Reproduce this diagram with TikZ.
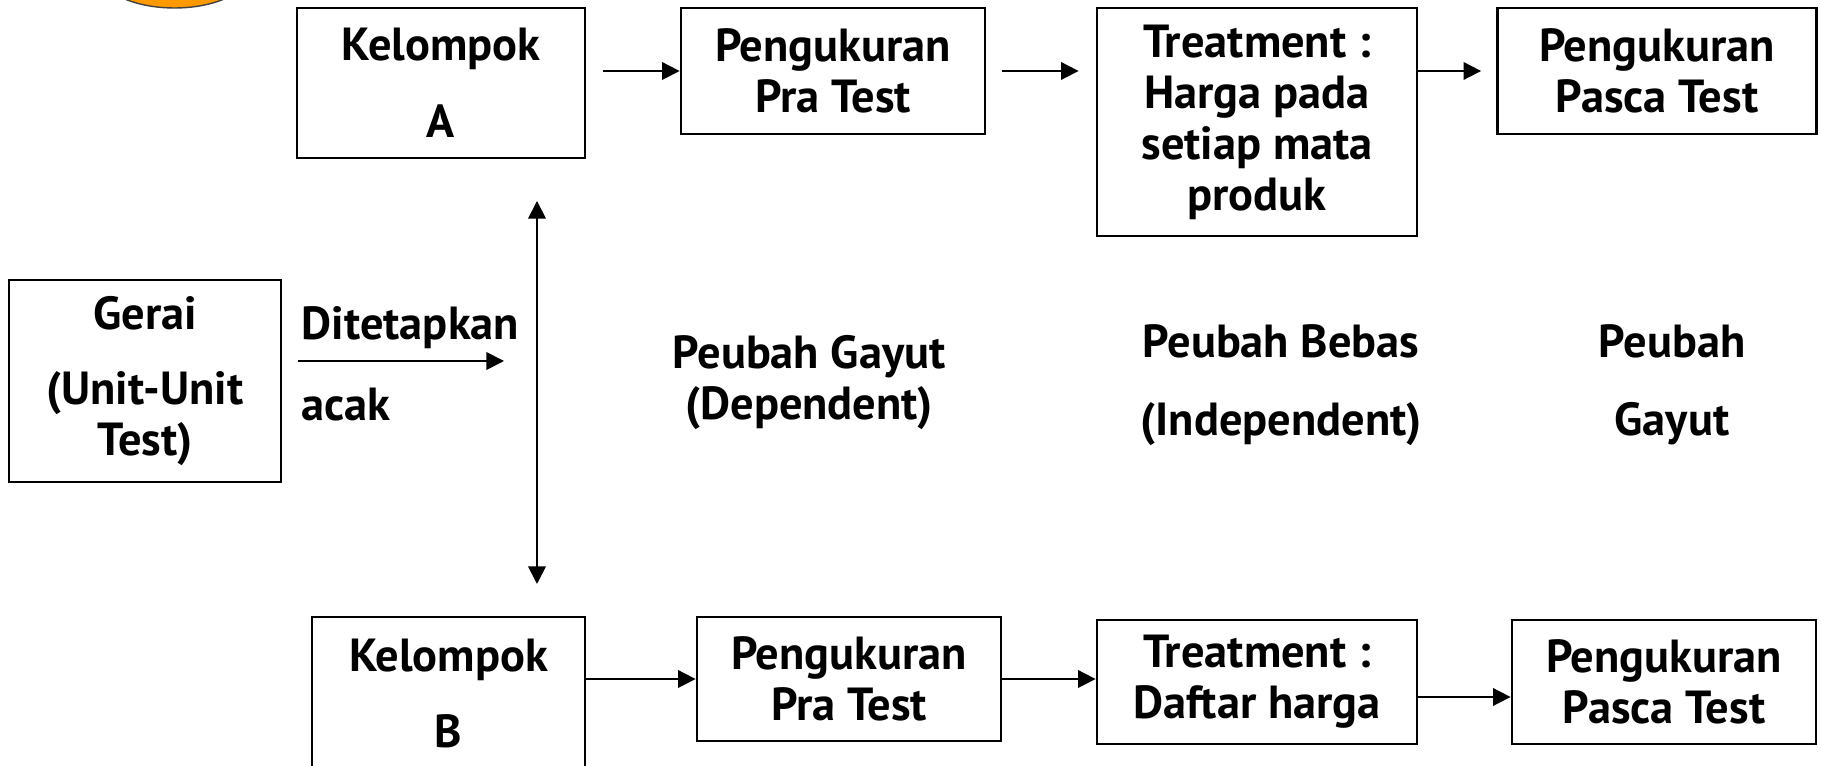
\documentclass[tikz,border=0pt]{standalone}
\usepackage{fontspec}
\setmainfont{PT Sans}
\usetikzlibrary{arrows.meta}

\definecolor{jingga}{RGB}{255,153,0}

\tikzset{
    box/.style = {draw = black, line width = 0.8pt, align = center,
                  inner sep = 0pt, font = \bfseries\fontsize{13.2}{14.5}\selectfont},
    teks/.style = {align = center, inner sep = 0pt,
                   font = \bfseries\fontsize{13.2}{14.5}\selectfont},
    arr/.style = {line width = 0.5pt, -{Triangle[length = 5pt, width = 5pt]}}
}

\begin{document}
\begin{tikzpicture}
            \useasboundingbox (0.0, 0.0) rectangle (18.21, -7.66);
            \clip (0.0, 0.0) rectangle (18.21, -7.66);

            \filldraw [fill = jingga, draw = black!75, line width = 0.4pt]
                  (1.745, 0.30) ellipse [x radius = 0.77, y radius = 0.38];

            % baris atas: kelompok A
            \node [box, minimum width = 2.88cm, minimum height = 1.50cm]
                  (kelA) at (4.41, -0.83) {Kelompok\\[0.26cm] A};
            \node [box, minimum width = 3.04cm, minimum height = 1.26cm]
                  (praA) at (8.33, -0.71) {Pengukuran\\ Pra Test};
            \node [box, minimum width = 3.20cm, minimum height = 2.28cm]
                  (treatA) at (12.57, -1.22)
                  {Treatment :\\ Harga pada\\ setiap mata\\ produk};
            \node [box, minimum width = 3.19cm, minimum height = 1.26cm]
                  (pascaA) at (16.57, -0.71) {Pengukuran\\ Pasca Test};

            % unit test
            \node [box, minimum width = 2.72cm, minimum height = 2.02cm]
                  (gerai) at (1.45, -3.81) {Gerai\\[0.24cm] (Unit-Unit\\ Test)};
            \node [teks, anchor = west] (ditetapkan) at (3.01, -3.28) {Ditetapkan};
            \node [teks, anchor = west] (acak) at (3.01, -4.05) {acak};
            \coordinate (acakEnd) at (5.04, -3.61);
            \coordinate (pisahN) at (5.37, -2.01);
            \coordinate (pisahS) at (5.37, -5.84);

            % keterangan peubah
            \node [teks] (gayut) at (8.09, -3.83) {Peubah Gayut\\ (Dependent)};
            \node [teks] (bebas) at (12.81, -3.85) {Peubah Bebas\\[0.27cm] (Independent)};
            \node [teks] (gayut2) at (16.72, -3.85) {Peubah\\[0.27cm] Gayut};

            % baris bawah: kelompok B
            \node [box, minimum width = 2.73cm, minimum height = 1.53cm]
                  (kelB) at (4.485, -6.935) {Kelompok\\[0.26cm] B};
            \node [box, minimum width = 3.04cm, minimum height = 1.24cm]
                  (praB) at (8.49, -6.79) {Pengukuran\\ Pra Test};
            \node [box, minimum width = 3.20cm, minimum height = 1.24cm]
                  (treatB) at (12.57, -6.82) {Treatment :\\ Daftar harga};
            \node [box, minimum width = 3.04cm, minimum height = 1.24cm]
                  (pascaB) at (16.64, -6.82) {Pengukuran\\ Pasca Test};

            \draw [arr, shorten < = 0.16cm] (gerai.east |- acakEnd) -- (acakEnd); % Gerai -> acak
            \draw [line width = 0.5pt, {Triangle[length = 5pt, width = 5pt]}-{Triangle[length = 5pt, width = 5pt]}]
                  (pisahN) -- (pisahS); % A <-> B

            \draw [arr, shorten < = 0.17cm] (kelA.east |- praA.west) -- (praA.west);
            \draw [arr, shorten < = 0.16cm, shorten > = 0.17cm]
                  (praA.east) -- (praA.east -| treatA.west);
            \draw [arr, shorten > = 0.15cm] (treatA.east |- pascaA.west) -- (pascaA.west);

            \draw [arr] (kelB.east |- praB.west) -- (praB.west);
            \draw [arr] (praB.east) -- (praB.east -| treatB.west);
            \draw [arr] ([yshift = -0.15cm]treatB.east) -- ([yshift = -0.15cm]treatB.east -| pascaB.west);
        \end{tikzpicture}
\end{document}
